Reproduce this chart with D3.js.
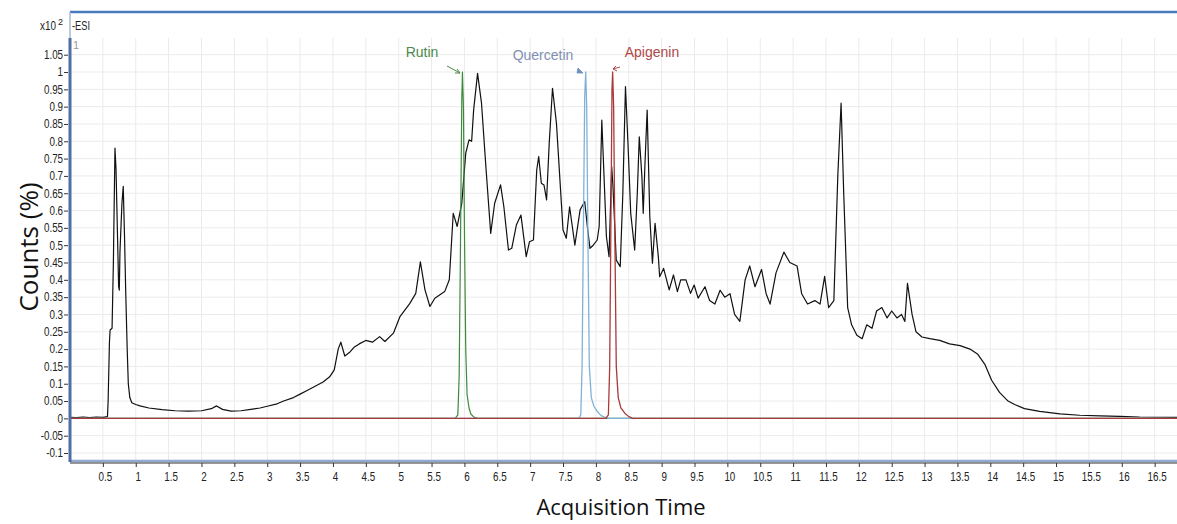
<!DOCTYPE html>
<html lang="en">
<head>
    <meta charset="UTF-8">
    <title>Chromatogram</title>
    <script src="https://cdn.jsdelivr.net/npm/d3@7/dist/d3.min.js"></script>
    <style>
        body { margin: 0; background: #fff; }
        #chart { width: 1177px; height: 524px; }
        .tick-lbl { font-family: "Liberation Sans", Arial, sans-serif; font-size: 12px; fill: #222; }
        .title { font-family: "Open Sans", "Noto Sans", sans-serif; font-size: 22px; fill: #111; }
    </style>
</head>
<body>
<div id="chart"></div>
<script type="text/javascript">
    // total ion trace (time in min, counts x10^2)
    var ticTime = [0, 0.1, 0.2, 0.3, 0.4, 0.5, 0.57, 0.58, 0.6, 0.61, 0.64, 0.66, 0.684, 0.7, 0.72, 0.74, 0.75, 0.76, 0.79, 0.81, 0.83, 0.847, 0.87, 0.887, 0.91, 0.94, 1.0, 1.065, 1.2, 1.4, 1.6, 1.8, 2.0, 2.15, 2.23, 2.32, 2.45, 2.6, 2.75, 2.89, 3.0, 3.15, 3.25, 3.4, 3.5, 3.6, 3.75, 3.85, 3.95, 4.02, 4.08, 4.12, 4.18, 4.25, 4.32, 4.4, 4.5, 4.6, 4.71, 4.79, 4.92, 5.02, 5.17, 5.26, 5.33, 5.4, 5.475, 5.55, 5.7, 5.77, 5.83, 5.89, 5.96, 6.02, 6.07, 6.11, 6.14, 6.2, 6.26, 6.33, 6.4, 6.46, 6.55, 6.6, 6.67, 6.72, 6.79, 6.86, 6.94, 6.99, 7.05, 7.1, 7.13, 7.17, 7.21, 7.25, 7.29, 7.34, 7.4, 7.45, 7.5, 7.55, 7.6, 7.645, 7.68, 7.76, 7.83, 7.87, 7.91, 7.96, 8.02, 8.05, 8.09, 8.12, 8.16, 8.2, 8.24, 8.26, 8.31, 8.37, 8.41, 8.45, 8.49, 8.53, 8.59, 8.63, 8.66, 8.7, 8.72, 8.745, 8.78, 8.82, 8.86, 8.9, 8.95, 8.97, 9.03, 9.115, 9.18, 9.24, 9.29, 9.37, 9.44, 9.495, 9.555, 9.66, 9.73, 9.81, 9.89, 9.96, 10.04, 10.11, 10.19, 10.27, 10.34, 10.42, 10.52, 10.59, 10.65, 10.74, 10.86, 10.95, 11.06, 11.13, 11.22, 11.33, 11.41, 11.48, 11.54, 11.62, 11.68, 11.73, 11.77, 11.83, 11.89, 11.97, 12.05, 12.12, 12.2, 12.27, 12.35, 12.43, 12.5, 12.58, 12.65, 12.7, 12.74, 12.81, 12.87, 12.96, 13.08, 13.23, 13.38, 13.54, 13.69, 13.81, 13.92, 14.02, 14.14, 14.27, 14.37, 14.52, 14.75, 15.06, 15.36, 15.67, 15.97, 16.27, 16.84];
    var ticCounts = [0.003, 0.002, 0.004, 0.002, 0.004, 0.003, 0.005, 0.05, 0.22, 0.255, 0.26, 0.45, 0.78, 0.72, 0.55, 0.38, 0.37, 0.48, 0.62, 0.67, 0.52, 0.37, 0.2, 0.1, 0.06, 0.045, 0.04, 0.036, 0.03, 0.025, 0.022, 0.021, 0.022, 0.028, 0.036, 0.026, 0.021, 0.022, 0.026, 0.03, 0.035, 0.042, 0.05, 0.06, 0.07, 0.08, 0.095, 0.105, 0.12, 0.14, 0.2, 0.22, 0.18, 0.19, 0.205, 0.215, 0.225, 0.22, 0.236, 0.222, 0.246, 0.294, 0.332, 0.361, 0.452, 0.371, 0.323, 0.347, 0.366, 0.4, 0.592, 0.554, 0.621, 0.765, 0.804, 0.8, 0.89, 0.996, 0.91, 0.717, 0.534, 0.621, 0.674, 0.611, 0.486, 0.491, 0.558, 0.587, 0.467, 0.51, 0.515, 0.717, 0.756, 0.679, 0.674, 0.631, 0.794, 0.953, 0.852, 0.698, 0.544, 0.52, 0.611, 0.549, 0.5, 0.602, 0.626, 0.554, 0.491, 0.5, 0.515, 0.554, 0.861, 0.717, 0.525, 0.467, 0.727, 0.669, 0.457, 0.438, 0.65, 0.958, 0.784, 0.592, 0.486, 0.65, 0.813, 0.698, 0.592, 0.727, 0.89, 0.582, 0.448, 0.563, 0.467, 0.409, 0.433, 0.371, 0.414, 0.366, 0.4, 0.4, 0.361, 0.385, 0.347, 0.38, 0.34, 0.33, 0.37, 0.35, 0.36, 0.3, 0.28, 0.4, 0.44, 0.38, 0.43, 0.36, 0.33, 0.42, 0.48, 0.45, 0.44, 0.36, 0.33, 0.34, 0.33, 0.41, 0.32, 0.34, 0.7, 0.91, 0.65, 0.32, 0.27, 0.24, 0.23, 0.27, 0.26, 0.31, 0.32, 0.29, 0.31, 0.29, 0.3, 0.28, 0.39, 0.3, 0.25, 0.235, 0.23, 0.225, 0.215, 0.21, 0.2, 0.185, 0.155, 0.11, 0.075, 0.05, 0.04, 0.028, 0.02, 0.013, 0.009, 0.007, 0.006, 0.004, 0.003];

    // standards
    var rutinTime = [0, 5.86, 5.9, 5.92, 5.94, 5.96, 5.97, 5.985, 6.0, 6.02, 6.04, 6.07, 6.1, 6.15, 6.2, 16.84];
    var rutinCounts = [0, 0, 0.01, 0.12, 0.5, 0.92, 1.0, 0.9, 0.55, 0.2, 0.07, 0.03, 0.012, 0.003, 0, 0];
    var querTime = [0, 7.74, 7.77, 7.79, 7.81, 7.83, 7.845, 7.86, 7.88, 7.9, 7.93, 7.97, 8.02, 8.08, 8.15, 8.2, 16.84];
    var querCounts = [0, 0, 0.01, 0.15, 0.55, 0.93, 1.0, 0.9, 0.5, 0.15, 0.06, 0.035, 0.02, 0.008, 0.002, 0, 0];
    var apiTime = [0, 8.15, 8.19, 8.21, 8.23, 8.245, 8.255, 8.27, 8.29, 8.31, 8.34, 8.38, 8.44, 8.5, 8.56, 16.84];
    var apiCounts = [0, 0, 0.01, 0.15, 0.6, 0.95, 1.0, 0.9, 0.5, 0.15, 0.06, 0.03, 0.015, 0.005, 0, 0];

    var xTicks = d3.range(1, 34).map(function (i) { return i * 0.5; });
    var yTicks = d3.range(-2, 22).map(function (i) { return i * 0.05; });

    var svgw = 1177, svgh = 524;
    var svg = d3.select('#chart').append('svg')
        .attr('width', svgw)
        .attr('height', svgh);

    var x_scale = d3.scaleLinear().domain([0, 16.84]).range([70, 1177]);
    var y_scale = d3.scaleLinear().domain([-0.1, 1.05]).range([453, 54.7]);
    var plotTop = 38, plotBot = 461;

    // grid
    svg.append('g').selectAll('line').data(xTicks).enter().append('line')
        .attr('x1', function (d) { return x_scale(d); })
        .attr('x2', function (d) { return x_scale(d); })
        .attr('y1', plotTop).attr('y2', plotBot)
        .attr('stroke', '#ebebeb');
    svg.append('g').selectAll('line').data(yTicks).enter().append('line')
        .attr('x1', 70).attr('x2', svgw)
        .attr('y1', function (d) { return y_scale(d); })
        .attr('y2', function (d) { return y_scale(d); })
        .attr('stroke', '#ebebeb');

    // traces
    function trace(t, v, color, w) {
        var line = d3.line()
            .x(function (d) { return x_scale(d[0]); })
            .y(function (d) { return y_scale(d[1]); });
        svg.append('path')
            .datum(d3.zip(t, v))
            .attr('d', line)
            .attr('fill', 'none')
            .attr('stroke', color)
            .attr('stroke-width', w)
            .attr('stroke-linejoin', 'round');
    }
    trace(ticTime, ticCounts, '#111', 1.2);
    trace(rutinTime, rutinCounts, '#3d8a3d', 1.2);
    trace(querTime, querCounts, '#7fb2d9', 1.3);
    trace(apiTime, apiCounts, '#a83a3a', 1.3);

    // frame
    svg.append('line').attr('x1', 70).attr('x2', svgw).attr('y1', 12).attr('y2', 12)
        .attr('stroke', '#4a7bbf').attr('stroke-width', 2.5);
    svg.append('line').attr('x1', 70).attr('x2', 70).attr('y1', 12).attr('y2', plotTop)
        .attr('stroke', '#a9bad3').attr('stroke-width', 1.5);
    svg.append('line').attr('x1', 70).attr('x2', svgw).attr('y1', 461).attr('y2', 461)
        .attr('stroke', '#8fa9d0').attr('stroke-width', 2.5);
    svg.append('line').attr('x1', 70).attr('x2', 70).attr('y1', plotTop).attr('y2', 462)
        .attr('stroke', '#4e6ea6').attr('stroke-width', 3);

    // x axis
    var x_axis = d3.axisBottom(x_scale)
        .tickValues(xTicks)
        .tickSize(4)
        .tickFormat(function (d) { return String(+d.toFixed(1)); });
    var gx = svg.append('g').attr('transform', 'translate(0,463)').call(x_axis);
    gx.select('.domain').attr('stroke', '#333').attr('d', 'M70,0H1177');
    gx.selectAll('line').attr('stroke', '#333');
    gx.selectAll('text').attr('class', 'tick-lbl').attr('dy', '0.9em')
        .attr('transform', 'translate(2,0) scale(0.82,1)');

    // y axis
    var y_axis = d3.axisLeft(y_scale)
        .tickValues(yTicks)
        .tickSize(4)
        .tickFormat(function (d) { return String(+d.toFixed(2)); });
    var gy = svg.append('g').attr('transform', 'translate(68,0)').call(y_axis);
    gy.select('.domain').remove();
    gy.selectAll('line').attr('stroke', '#333');
    gy.selectAll('text').attr('class', 'tick-lbl').attr('x', -6)
        .attr('transform', 'scale(0.82,1)');

    // header texts
    svg.append('text').attr('class', 'tick-lbl').attr('x', 40).attr('y', 30)
        .attr('textLength', 16).attr('lengthAdjust', 'spacingAndGlyphs').text('x10');
    svg.append('text').attr('class', 'tick-lbl').attr('x', 58).attr('y', 25).style('font-size', '9px').text('2');
    svg.append('text').attr('class', 'tick-lbl').attr('x', 72).attr('y', 30)
        .attr('textLength', 18).attr('lengthAdjust', 'spacingAndGlyphs').text('-ESI');
    svg.append('text').attr('class', 'tick-lbl').attr('x', 73).attr('y', 49).style('fill', '#999').style('font-size', '11px').text('1');

    // compound labels
    var labels = [
        {name: 'Rutin', x: 422, y: 57, color: '#4a8a4a'},
        {name: 'Quercetin', x: 543, y: 60, color: '#7f90b2'},
        {name: 'Apigenin', x: 652, y: 57, color: '#b04848'}
    ];
    svg.selectAll('.cmp').data(labels).enter().append('text')
        .attr('class', 'tick-lbl cmp')
        .attr('x', function (d) { return d.x; })
        .attr('y', function (d) { return d.y; })
        .attr('text-anchor', 'middle')
        .style('font-size', '14px')
        .style('fill', function (d) { return d.color; })
        .text(function (d) { return d.name; });

    // little arrows
    svg.append('path').attr('d', 'M447,66 L460,73 M455,73 L460,73 L457,69')
        .attr('fill', 'none').attr('stroke', '#4a8a4a').attr('stroke-width', 1);
    svg.append('path').attr('d', 'M577,73 L583,73 L578,68 Z')
        .attr('fill', '#6f8fc0').attr('stroke', '#6f8fc0').attr('stroke-width', 0.8);
    svg.append('path').attr('d', 'M620,67 L613,69 M616,66 L613,69 L617,71')
        .attr('fill', 'none').attr('stroke', '#b04848').attr('stroke-width', 1);

    // titles
    svg.append('text').attr('class', 'title')
        .attr('transform', 'translate(38,247) rotate(-90)')
        .attr('text-anchor', 'middle')
        .style('font-size', '26px')
        .text('Counts (%)');
    svg.append('text').attr('class', 'title')
        .attr('x', 621).attr('y', 515)
        .attr('text-anchor', 'middle')
        .text('Acquisition Time');
</script>
</body>
</html>
